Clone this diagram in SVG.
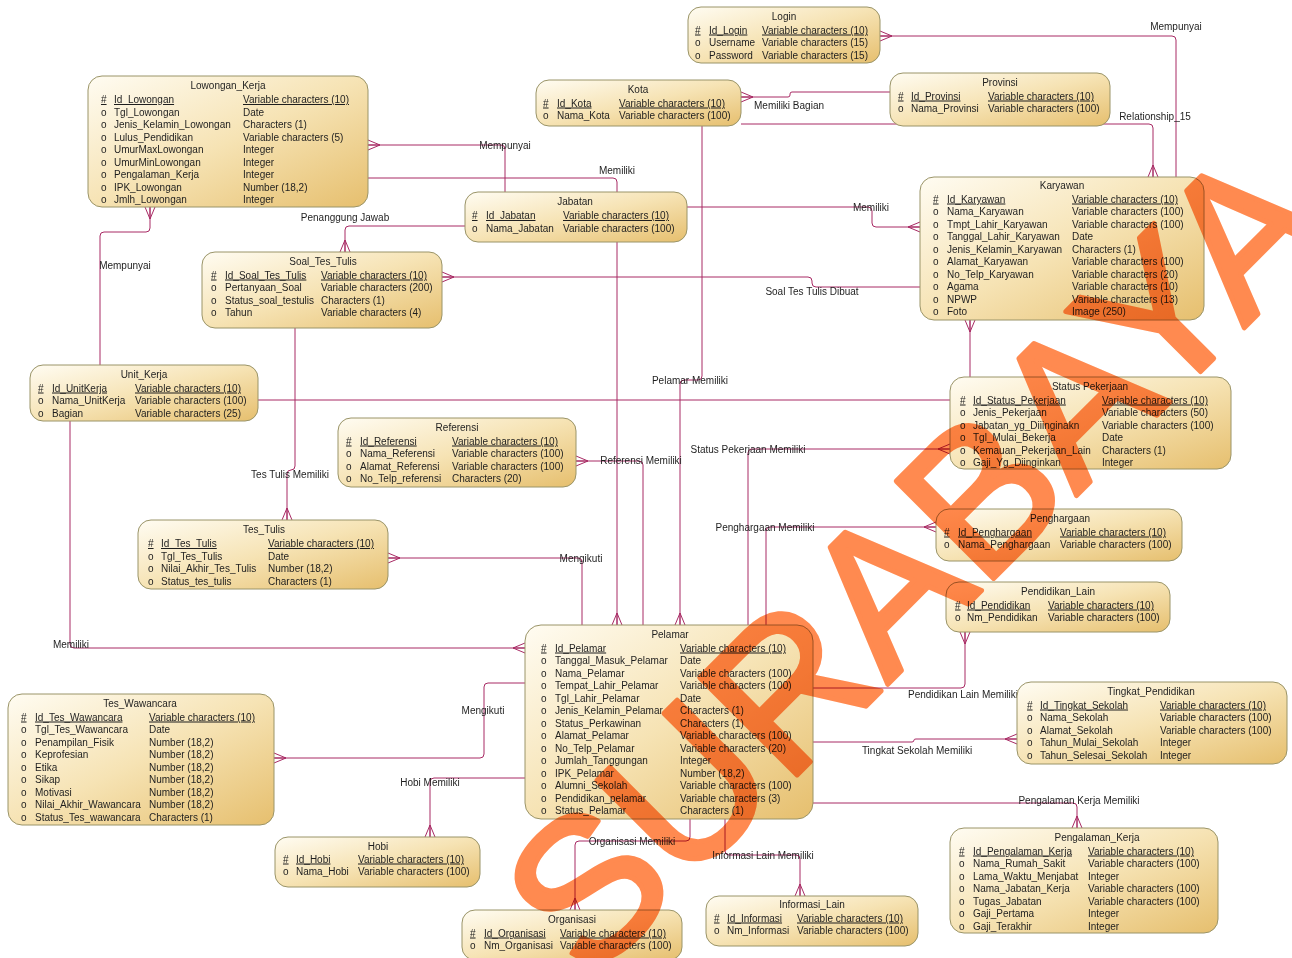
<svg xmlns="http://www.w3.org/2000/svg" xmlns:xlink="http://www.w3.org/1999/xlink" width="1292" height="958" viewBox="0 0 1292 958">
<defs>
<linearGradient id="bg" x1="0" y1="0" x2="1" y2="1">
<stop offset="0" stop-color="#FFFCF2"/>
<stop offset="0.5" stop-color="#F6E3B4"/>
<stop offset="1" stop-color="#E6BF6E"/>
</linearGradient>
<path id="cf" d="M0,-5 L12,0 M0,0 L12,0 M0,5 L12,0"/>
</defs>
<style>
.box{fill:url(#bg);stroke:#9A9468;stroke-width:1}
text{font-family:"Liberation Sans",Arial,sans-serif;font-size:10px;fill:#1E1E1E}
.t{text-anchor:middle}
.u{text-decoration:underline}
.cl{text-anchor:middle}
#conn path,#conn use{fill:none;stroke:#A82A64;stroke-width:1}
.wm{font-family:"Liberation Sans",Arial,sans-serif;font-size:200px;fill:#FF8A50;stroke:#FF8A50;stroke-width:5;stroke-linejoin:round;mix-blend-mode:multiply}
</style>
<rect width="1292" height="958" fill="#FFFFFF"/>
<g id="conn">
<path d="M880,36 H1172 Q1176,36 1176,40 V177"/><use xlink:href="#cf" transform="translate(880,36)"/>
<path d="M741,124 H1149 Q1153,124 1153,128 V177"/><use xlink:href="#cf" transform="translate(1153,177) rotate(-90)"/>
<path d="M741,97 H788 Q790,97 790,95 V94 Q790,92 792,92 H890"/><use xlink:href="#cf" transform="translate(741,97)"/>
<path d="M368,145 H501 Q505,145 505,149 V192"/><use xlink:href="#cf" transform="translate(368,145)"/>
<path d="M150,207 V228 Q150,232 146,232 H104 Q100,232 100,236 V365"/><use xlink:href="#cf" transform="translate(150,207) rotate(90)"/>
<path d="M368,178 H613 Q617,178 617,182 V625"/><use xlink:href="#cf" transform="translate(617,625) rotate(-90)"/>
<path d="M465,226 H349 Q345,226 345,230 V252"/><use xlink:href="#cf" transform="translate(345,252) rotate(-90)"/>
<path d="M687,207 H868 Q872,207 872,211 V223 Q872,227 876,227 H920"/><use xlink:href="#cf" transform="translate(920,227) rotate(180)"/>
<path d="M442,277 H808 Q812,277 812,281 V283 Q812,287 816,287 H920"/><use xlink:href="#cf" transform="translate(442,277)"/>
<path d="M295,328 V466 Q295,470 291,470 Q287,470 287,474 V520"/><use xlink:href="#cf" transform="translate(287,520) rotate(-90)"/>
<path d="M258,400 H966 Q970,400 970,396 V320"/><use xlink:href="#cf" transform="translate(970,320) rotate(90)"/>
<path d="M702,126 V376 Q702,380 698,380 H684 Q680,380 680,384 V625"/><use xlink:href="#cf" transform="translate(680,625) rotate(-90)"/>
<path d="M950,449 H752 Q748,449 748,453 V625"/><use xlink:href="#cf" transform="translate(950,449) rotate(180)"/>
<path d="M936,527 H770 Q766,527 766,531 V625"/><use xlink:href="#cf" transform="translate(936,527) rotate(180)"/>
<path d="M576,461 H639 Q643,461 643,465 V625"/><use xlink:href="#cf" transform="translate(576,461)"/>
<path d="M388,558 H578 Q582,558 582,562 V625"/><use xlink:href="#cf" transform="translate(388,558)"/>
<path d="M70,421 V644 Q70,648 74,648 H525"/><use xlink:href="#cf" transform="translate(525,648) rotate(180)"/>
<path d="M274,758 H480 Q484,758 484,754 V687 Q484,683 488,683 H525"/><use xlink:href="#cf" transform="translate(274,758)"/>
<path d="M525,778 H434 Q430,778 430,782 V837"/><use xlink:href="#cf" transform="translate(430,837) rotate(-90)"/>
<path d="M690,819 V837 Q690,841 686,841 H579 Q575,841 575,845 V910"/><use xlink:href="#cf" transform="translate(575,910) rotate(-90)"/>
<path d="M725,819 V851 Q725,855 729,855 H796 Q800,855 800,859 V896"/><use xlink:href="#cf" transform="translate(800,896) rotate(-90)"/>
<path d="M813,803 H1073 Q1077,803 1077,807 V828"/><use xlink:href="#cf" transform="translate(1077,828) rotate(-90)"/>
<path d="M813,688 H961 Q965,688 965,684 V632"/><use xlink:href="#cf" transform="translate(965,632) rotate(90)"/>
<path d="M813,742 H912 Q914,742 914,740 Q914,739 916,739 H1017"/><use xlink:href="#cf" transform="translate(1017,739) rotate(180)"/>
<text class="cl" x="1176" y="30">Mempunyai</text>
<text class="cl" x="1155" y="120">Relationship_15</text>
<text class="cl" x="789" y="109">Memiliki Bagian</text>
<text class="cl" x="505" y="149">Mempunyai</text>
<text class="cl" x="125" y="269">Mempunyai</text>
<text class="cl" x="617" y="174">Memiliki</text>
<text class="cl" x="345" y="221">Penanggung Jawab</text>
<text class="cl" x="871" y="211">Memiliki</text>
<text class="cl" x="812" y="295">Soal Tes Tulis Dibuat</text>
<text class="cl" x="290" y="478">Tes Tulis Memiliki</text>
<text class="cl" x="690" y="384">Pelamar Memiliki</text>
<text class="cl" x="748" y="453">Status Pekerjaan Memiliki</text>
<text class="cl" x="765" y="531">Penghargaan Memiliki</text>
<text class="cl" x="641" y="464">Referensi Memiliki</text>
<text class="cl" x="581" y="562">Mengikuti</text>
<text class="cl" x="71" y="648">Memiliki</text>
<text class="cl" x="483" y="714">Mengikuti</text>
<text class="cl" x="430" y="786">Hobi Memiliki</text>
<text class="cl" x="632" y="845">Organisasi Memiliki</text>
<text class="cl" x="763" y="859">Informasi Lain Memiliki</text>
<text class="cl" x="1079" y="804">Pengalaman Kerja Memiliki</text>
<text class="cl" x="963" y="698">Pendidikan Lain Memiliki</text>
<text class="cl" x="917" y="754">Tingkat Sekolah Memiliki</text>
</g>

<g id="n-login">
<rect class="box" x="688" y="7" width="192" height="56" rx="13"/>
<text class="t" x="784" y="19.5">Login</text>
<text class="u" x="695" y="33.5">#</text><text class="u" x="709" y="33.5">Id_Login</text><text class="u" x="762" y="33.5">Variable characters (10)</text>
<text x="695" y="46">o</text><text x="709" y="46">Username</text><text x="762" y="46">Variable characters (15)</text>
<text x="695" y="58.5">o</text><text x="709" y="58.5">Password</text><text x="762" y="58.5">Variable characters (15)</text>
</g>

<g id="n-kota">
<rect class="box" x="536" y="80" width="205" height="46" rx="13"/>
<text class="t" x="638" y="92.5">Kota</text>
<text class="u" x="543" y="106.5">#</text><text class="u" x="557" y="106.5">Id_Kota</text><text class="u" x="619" y="106.5">Variable characters (10)</text>
<text x="543" y="119">o</text><text x="557" y="119">Nama_Kota</text><text x="619" y="119">Variable characters (100)</text>
</g>

<g id="n-provinsi">
<rect class="box" x="890" y="73" width="220" height="53" rx="13"/>
<text class="t" x="1000" y="85.5">Provinsi</text>
<text class="u" x="898" y="99.5">#</text><text class="u" x="911" y="99.5">Id_Provinsi</text><text class="u" x="988" y="99.5">Variable characters (10)</text>
<text x="898" y="112">o</text><text x="911" y="112">Nama_Provinsi</text><text x="988" y="112">Variable characters (100)</text>
</g>

<g id="n-lowongan">
<rect class="box" x="88" y="76" width="280" height="131" rx="14"/>
<text class="t" x="228" y="88.5">Lowongan_Kerja</text>
<text class="u" x="101" y="103">#</text><text class="u" x="114" y="103">Id_Lowongan</text><text class="u" x="243" y="103">Variable characters (10)</text>
<text x="101" y="115.5">o</text><text x="114" y="115.5">Tgl_Lowongan</text><text x="243" y="115.5">Date</text>
<text x="101" y="128">o</text><text x="114" y="128">Jenis_Kelamin_Lowongan</text><text x="243" y="128">Characters (1)</text>
<text x="101" y="140.5">o</text><text x="114" y="140.5">Lulus_Pendidikan</text><text x="243" y="140.5">Variable characters (5)</text>
<text x="101" y="153">o</text><text x="114" y="153">UmurMaxLowongan</text><text x="243" y="153">Integer</text>
<text x="101" y="165.5">o</text><text x="114" y="165.5">UmurMinLowongan</text><text x="243" y="165.5">Integer</text>
<text x="101" y="178">o</text><text x="114" y="178">Pengalaman_Kerja</text><text x="243" y="178">Integer</text>
<text x="101" y="190.5">o</text><text x="114" y="190.5">IPK_Lowongan</text><text x="243" y="190.5">Number (18,2)</text>
<text x="101" y="203">o</text><text x="114" y="203">Jmlh_Lowongan</text><text x="243" y="203">Integer</text>
</g>

<g id="n-karyawan">
<rect class="box" x="920" y="177" width="284" height="143" rx="14"/>
<text class="t" x="1062" y="189">Karyawan</text>
<text class="u" x="933" y="202.5">#</text><text class="u" x="947" y="202.5">Id_Karyawan</text><text class="u" x="1072" y="202.5">Variable characters (10)</text>
<text x="933" y="215">o</text><text x="947" y="215">Nama_Karyawan</text><text x="1072" y="215">Variable characters (100)</text>
<text x="933" y="227.5">o</text><text x="947" y="227.5">Tmpt_Lahir_Karyawan</text><text x="1072" y="227.5">Variable characters (100)</text>
<text x="933" y="240">o</text><text x="947" y="240">Tanggal_Lahir_Karyawan</text><text x="1072" y="240">Date</text>
<text x="933" y="252.5">o</text><text x="947" y="252.5">Jenis_Kelamin_Karyawan</text><text x="1072" y="252.5">Characters (1)</text>
<text x="933" y="265">o</text><text x="947" y="265">Alamat_Karyawan</text><text x="1072" y="265">Variable characters (100)</text>
<text x="933" y="277.5">o</text><text x="947" y="277.5">No_Telp_Karyawan</text><text x="1072" y="277.5">Variable characters (20)</text>
<text x="933" y="290">o</text><text x="947" y="290">Agama</text><text x="1072" y="290">Variable characters (10)</text>
<text x="933" y="302.5">o</text><text x="947" y="302.5">NPWP</text><text x="1072" y="302.5">Variable characters (13)</text>
<text x="933" y="315">o</text><text x="947" y="315">Foto</text><text x="1072" y="315">Image (250)</text>
</g>

<g id="n-jabatan">
<rect class="box" x="465" y="192" width="222" height="50" rx="13"/>
<text class="t" x="575" y="204.5">Jabatan</text>
<text class="u" x="472" y="219">#</text><text class="u" x="486" y="219">Id_Jabatan</text><text class="u" x="563" y="219">Variable characters (10)</text>
<text x="472" y="231.5">o</text><text x="486" y="231.5">Nama_Jabatan</text><text x="563" y="231.5">Variable characters (100)</text>
</g>

<g id="n-soal">
<rect class="box" x="202" y="252" width="240" height="76" rx="13"/>
<text class="t" x="323" y="264.5">Soal_Tes_Tulis</text>
<text class="u" x="211" y="278.5">#</text><text class="u" x="225" y="278.5">Id_Soal_Tes_Tulis</text><text class="u" x="321" y="278.5">Variable characters (10)</text>
<text x="211" y="291">o</text><text x="225" y="291">Pertanyaan_Soal</text><text x="321" y="291">Variable characters (200)</text>
<text x="211" y="303.5">o</text><text x="225" y="303.5">Status_soal_testulis</text><text x="321" y="303.5">Characters (1)</text>
<text x="211" y="316">o</text><text x="225" y="316">Tahun</text><text x="321" y="316">Variable characters (4)</text>
</g>

<g id="n-unitkerja">
<rect class="box" x="30" y="365" width="228" height="56" rx="13"/>
<text class="t" x="144" y="377.5">Unit_Kerja</text>
<text class="u" x="38" y="391.5">#</text><text class="u" x="52" y="391.5">Id_UnitKerja</text><text class="u" x="135" y="391.5">Variable characters (10)</text>
<text x="38" y="404">o</text><text x="52" y="404">Nama_UnitKerja</text><text x="135" y="404">Variable characters (100)</text>
<text x="38" y="416.5">o</text><text x="52" y="416.5">Bagian</text><text x="135" y="416.5">Variable characters (25)</text>
</g>

<g id="n-referensi">
<rect class="box" x="338" y="418" width="238" height="69" rx="13"/>
<text class="t" x="457" y="430.5">Referensi</text>
<text class="u" x="346" y="444.5">#</text><text class="u" x="360" y="444.5">Id_Referensi</text><text class="u" x="452" y="444.5">Variable characters (10)</text>
<text x="346" y="457">o</text><text x="360" y="457">Nama_Referensi</text><text x="452" y="457">Variable characters (100)</text>
<text x="346" y="469.5">o</text><text x="360" y="469.5">Alamat_Referensi</text><text x="452" y="469.5">Variable characters (100)</text>
<text x="346" y="482">o</text><text x="360" y="482">No_Telp_referensi</text><text x="452" y="482">Characters (20)</text>
</g>

<g id="n-status">
<rect class="box" x="950" y="377" width="281" height="92" rx="14"/>
<text class="t" x="1090" y="389.5">Status Pekerjaan</text>
<text class="u" x="960" y="403.5">#</text><text class="u" x="973" y="403.5">Id_Status_Pekerjaan</text><text class="u" x="1102" y="403.5">Variable characters (10)</text>
<text x="960" y="416">o</text><text x="973" y="416">Jenis_Pekerjaan</text><text x="1102" y="416">Variable characters (50)</text>
<text x="960" y="428.5">o</text><text x="973" y="428.5">Jabatan_yg_Diiinginakn</text><text x="1102" y="428.5">Variable characters (100)</text>
<text x="960" y="441">o</text><text x="973" y="441">Tgl_Mulai_Bekerja</text><text x="1102" y="441">Date</text>
<text x="960" y="453.5">o</text><text x="973" y="453.5">Kemauan_Pekerjaan_Lain</text><text x="1102" y="453.5">Characters (1)</text>
<text x="960" y="466">o</text><text x="973" y="466">Gaji_Yg_Diinginkan</text><text x="1102" y="466">Integer</text>
</g>

<g id="n-penghargaan">
<rect class="box" x="936" y="509" width="246" height="52" rx="13"/>
<text class="t" x="1060" y="521.5">Penghargaan</text>
<text class="u" x="944" y="535.5">#</text><text class="u" x="958" y="535.5">Id_Penghargaan</text><text class="u" x="1060" y="535.5">Variable characters (10)</text>
<text x="944" y="548">o</text><text x="958" y="548">Nama_Penghargaan</text><text x="1060" y="548">Variable characters (100)</text>
</g>

<g id="n-pendidikanlain">
<rect class="box" x="946" y="582" width="224" height="50" rx="13"/>
<text class="t" x="1058" y="594.5">Pendidikan_Lain</text>
<text class="u" x="955" y="608.5">#</text><text class="u" x="967" y="608.5">Id_Pendidikan</text><text class="u" x="1048" y="608.5">Variable characters (10)</text>
<text x="955" y="621">o</text><text x="967" y="621">Nm_Pendidikan</text><text x="1048" y="621">Variable characters (100)</text>
</g>

<g id="n-tingkat">
<rect class="box" x="1017" y="682" width="270" height="82" rx="14"/>
<text class="t" x="1151" y="694.5">Tingkat_Pendidikan</text>
<text class="u" x="1027" y="708.5">#</text><text class="u" x="1040" y="708.5">Id_Tingkat_Sekolah</text><text class="u" x="1160" y="708.5">Variable characters (10)</text>
<text x="1027" y="721">o</text><text x="1040" y="721">Nama_Sekolah</text><text x="1160" y="721">Variable characters (100)</text>
<text x="1027" y="733.5">o</text><text x="1040" y="733.5">Alamat_Sekolah</text><text x="1160" y="733.5">Variable characters (100)</text>
<text x="1027" y="746">o</text><text x="1040" y="746">Tahun_Mulai_Sekolah</text><text x="1160" y="746">Integer</text>
<text x="1027" y="758.5">o</text><text x="1040" y="758.5">Tahun_Selesai_Sekolah</text><text x="1160" y="758.5">Integer</text>
</g>

<g id="n-testulis">
<rect class="box" x="138" y="520" width="250" height="69" rx="13"/>
<text class="t" x="264" y="532.5">Tes_Tulis</text>
<text class="u" x="148" y="547">#</text><text class="u" x="161" y="547">Id_Tes_Tulis</text><text class="u" x="268" y="547">Variable characters (10)</text>
<text x="148" y="559.5">o</text><text x="161" y="559.5">Tgl_Tes_Tulis</text><text x="268" y="559.5">Date</text>
<text x="148" y="572">o</text><text x="161" y="572">Nilai_Akhir_Tes_Tulis</text><text x="268" y="572">Number (18,2)</text>
<text x="148" y="584.5">o</text><text x="161" y="584.5">Status_tes_tulis</text><text x="268" y="584.5">Characters (1)</text>
</g>

<g id="n-pelamar">
<rect class="box" x="525" y="625" width="288" height="194" rx="16"/>
<text class="t" x="670" y="637.5">Pelamar</text>
<text class="u" x="541" y="651.5">#</text><text class="u" x="555" y="651.5">Id_Pelamar</text><text class="u" x="680" y="651.5">Variable characters (10)</text>
<text x="541" y="664">o</text><text x="555" y="664">Tanggal_Masuk_Pelamar</text><text x="680" y="664">Date</text>
<text x="541" y="676.5">o</text><text x="555" y="676.5">Nama_Pelamar</text><text x="680" y="676.5">Variable characters (100)</text>
<text x="541" y="689">o</text><text x="555" y="689">Tempat_Lahir_Pelamar</text><text x="680" y="689">Variable characters (100)</text>
<text x="541" y="701.5">o</text><text x="555" y="701.5">Tgl_Lahir_Pelamar</text><text x="680" y="701.5">Date</text>
<text x="541" y="714">o</text><text x="555" y="714">Jenis_Kelamin_Pelamar</text><text x="680" y="714">Characters (1)</text>
<text x="541" y="726.5">o</text><text x="555" y="726.5">Status_Perkawinan</text><text x="680" y="726.5">Characters (1)</text>
<text x="541" y="739">o</text><text x="555" y="739">Alamat_Pelamar</text><text x="680" y="739">Variable characters (100)</text>
<text x="541" y="751.5">o</text><text x="555" y="751.5">No_Telp_Pelamar</text><text x="680" y="751.5">Variable characters (20)</text>
<text x="541" y="764">o</text><text x="555" y="764">Jumlah_Tanggungan</text><text x="680" y="764">Integer</text>
<text x="541" y="776.5">o</text><text x="555" y="776.5">IPK_Pelamar</text><text x="680" y="776.5">Number (18,2)</text>
<text x="541" y="789">o</text><text x="555" y="789">Alumni_Sekolah</text><text x="680" y="789">Variable characters (100)</text>
<text x="541" y="801.5">o</text><text x="555" y="801.5">Pendidikan_pelamar</text><text x="680" y="801.5">Variable characters (3)</text>
<text x="541" y="814">o</text><text x="555" y="814">Status_Pelamar</text><text x="680" y="814">Characters (1)</text>
</g>

<g id="n-teswawancara">
<rect class="box" x="8" y="694" width="266" height="131" rx="14"/>
<text class="t" x="140" y="706.5">Tes_Wawancara</text>
<text class="u" x="21" y="720.5">#</text><text class="u" x="35" y="720.5">Id_Tes_Wawancara</text><text class="u" x="149" y="720.5">Variable characters (10)</text>
<text x="21" y="733">o</text><text x="35" y="733">Tgl_Tes_Wawancara</text><text x="149" y="733">Date</text>
<text x="21" y="745.5">o</text><text x="35" y="745.5">Penampilan_Fisik</text><text x="149" y="745.5">Number (18,2)</text>
<text x="21" y="758">o</text><text x="35" y="758">Keprofesian</text><text x="149" y="758">Number (18,2)</text>
<text x="21" y="770.5">o</text><text x="35" y="770.5">Etika</text><text x="149" y="770.5">Number (18,2)</text>
<text x="21" y="783">o</text><text x="35" y="783">Sikap</text><text x="149" y="783">Number (18,2)</text>
<text x="21" y="795.5">o</text><text x="35" y="795.5">Motivasi</text><text x="149" y="795.5">Number (18,2)</text>
<text x="21" y="808">o</text><text x="35" y="808">Nilai_Akhir_Wawancara</text><text x="149" y="808">Number (18,2)</text>
<text x="21" y="820.5">o</text><text x="35" y="820.5">Status_Tes_wawancara</text><text x="149" y="820.5">Characters (1)</text>
</g>

<g id="n-hobi">
<rect class="box" x="275" y="837" width="205" height="50" rx="13"/>
<text class="t" x="378" y="849.5">Hobi</text>
<text class="u" x="283" y="862.5">#</text><text class="u" x="296" y="862.5">Id_Hobi</text><text class="u" x="358" y="862.5">Variable characters (10)</text>
<text x="283" y="875">o</text><text x="296" y="875">Nama_Hobi</text><text x="358" y="875">Variable characters (100)</text>
</g>

<g id="n-organisasi">
<rect class="box" x="462" y="910" width="220" height="50" rx="13"/>
<text class="t" x="572" y="922.5">Organisasi</text>
<text class="u" x="470" y="936.5">#</text><text class="u" x="484" y="936.5">Id_Organisasi</text><text class="u" x="560" y="936.5">Variable characters (10)</text>
<text x="470" y="949">o</text><text x="484" y="949">Nm_Organisasi</text><text x="560" y="949">Variable characters (100)</text>
</g>

<g id="n-informasi">
<rect class="box" x="706" y="896" width="212" height="50" rx="13"/>
<text class="t" x="812" y="908">Informasi_Lain</text>
<text class="u" x="714" y="921.5">#</text><text class="u" x="727" y="921.5">Id_Informasi</text><text class="u" x="797" y="921.5">Variable characters (10)</text>
<text x="714" y="934">o</text><text x="727" y="934">Nm_Informasi</text><text x="797" y="934">Variable characters (100)</text>
</g>

<g id="n-pengalaman">
<rect class="box" x="950" y="828" width="268" height="105" rx="14"/>
<text class="t" x="1097" y="840.5">Pengalaman_Kerja</text>
<text class="u" x="959" y="854.5">#</text><text class="u" x="973" y="854.5">Id_Pengalaman_Kerja</text><text class="u" x="1088" y="854.5">Variable characters (10)</text>
<text x="959" y="867">o</text><text x="973" y="867">Nama_Rumah_Sakit</text><text x="1088" y="867">Variable characters (100)</text>
<text x="959" y="879.5">o</text><text x="973" y="879.5">Lama_Waktu_Menjabat</text><text x="1088" y="879.5">Integer</text>
<text x="959" y="892">o</text><text x="973" y="892">Nama_Jabatan_Kerja</text><text x="1088" y="892">Variable characters (100)</text>
<text x="959" y="904.5">o</text><text x="973" y="904.5">Tugas_Jabatan</text><text x="1088" y="904.5">Variable characters (100)</text>
<text x="959" y="917">o</text><text x="973" y="917">Gaji_Pertama</text><text x="1088" y="917">Integer</text>
<text x="959" y="929.5">o</text><text x="973" y="929.5">Gaji_Terakhir</text><text x="1088" y="929.5">Integer</text>
</g>

<g id="watermark">
<text class="wm" transform="translate(589,983) rotate(-45)">SURABAYA</text>
</g>
</svg>
